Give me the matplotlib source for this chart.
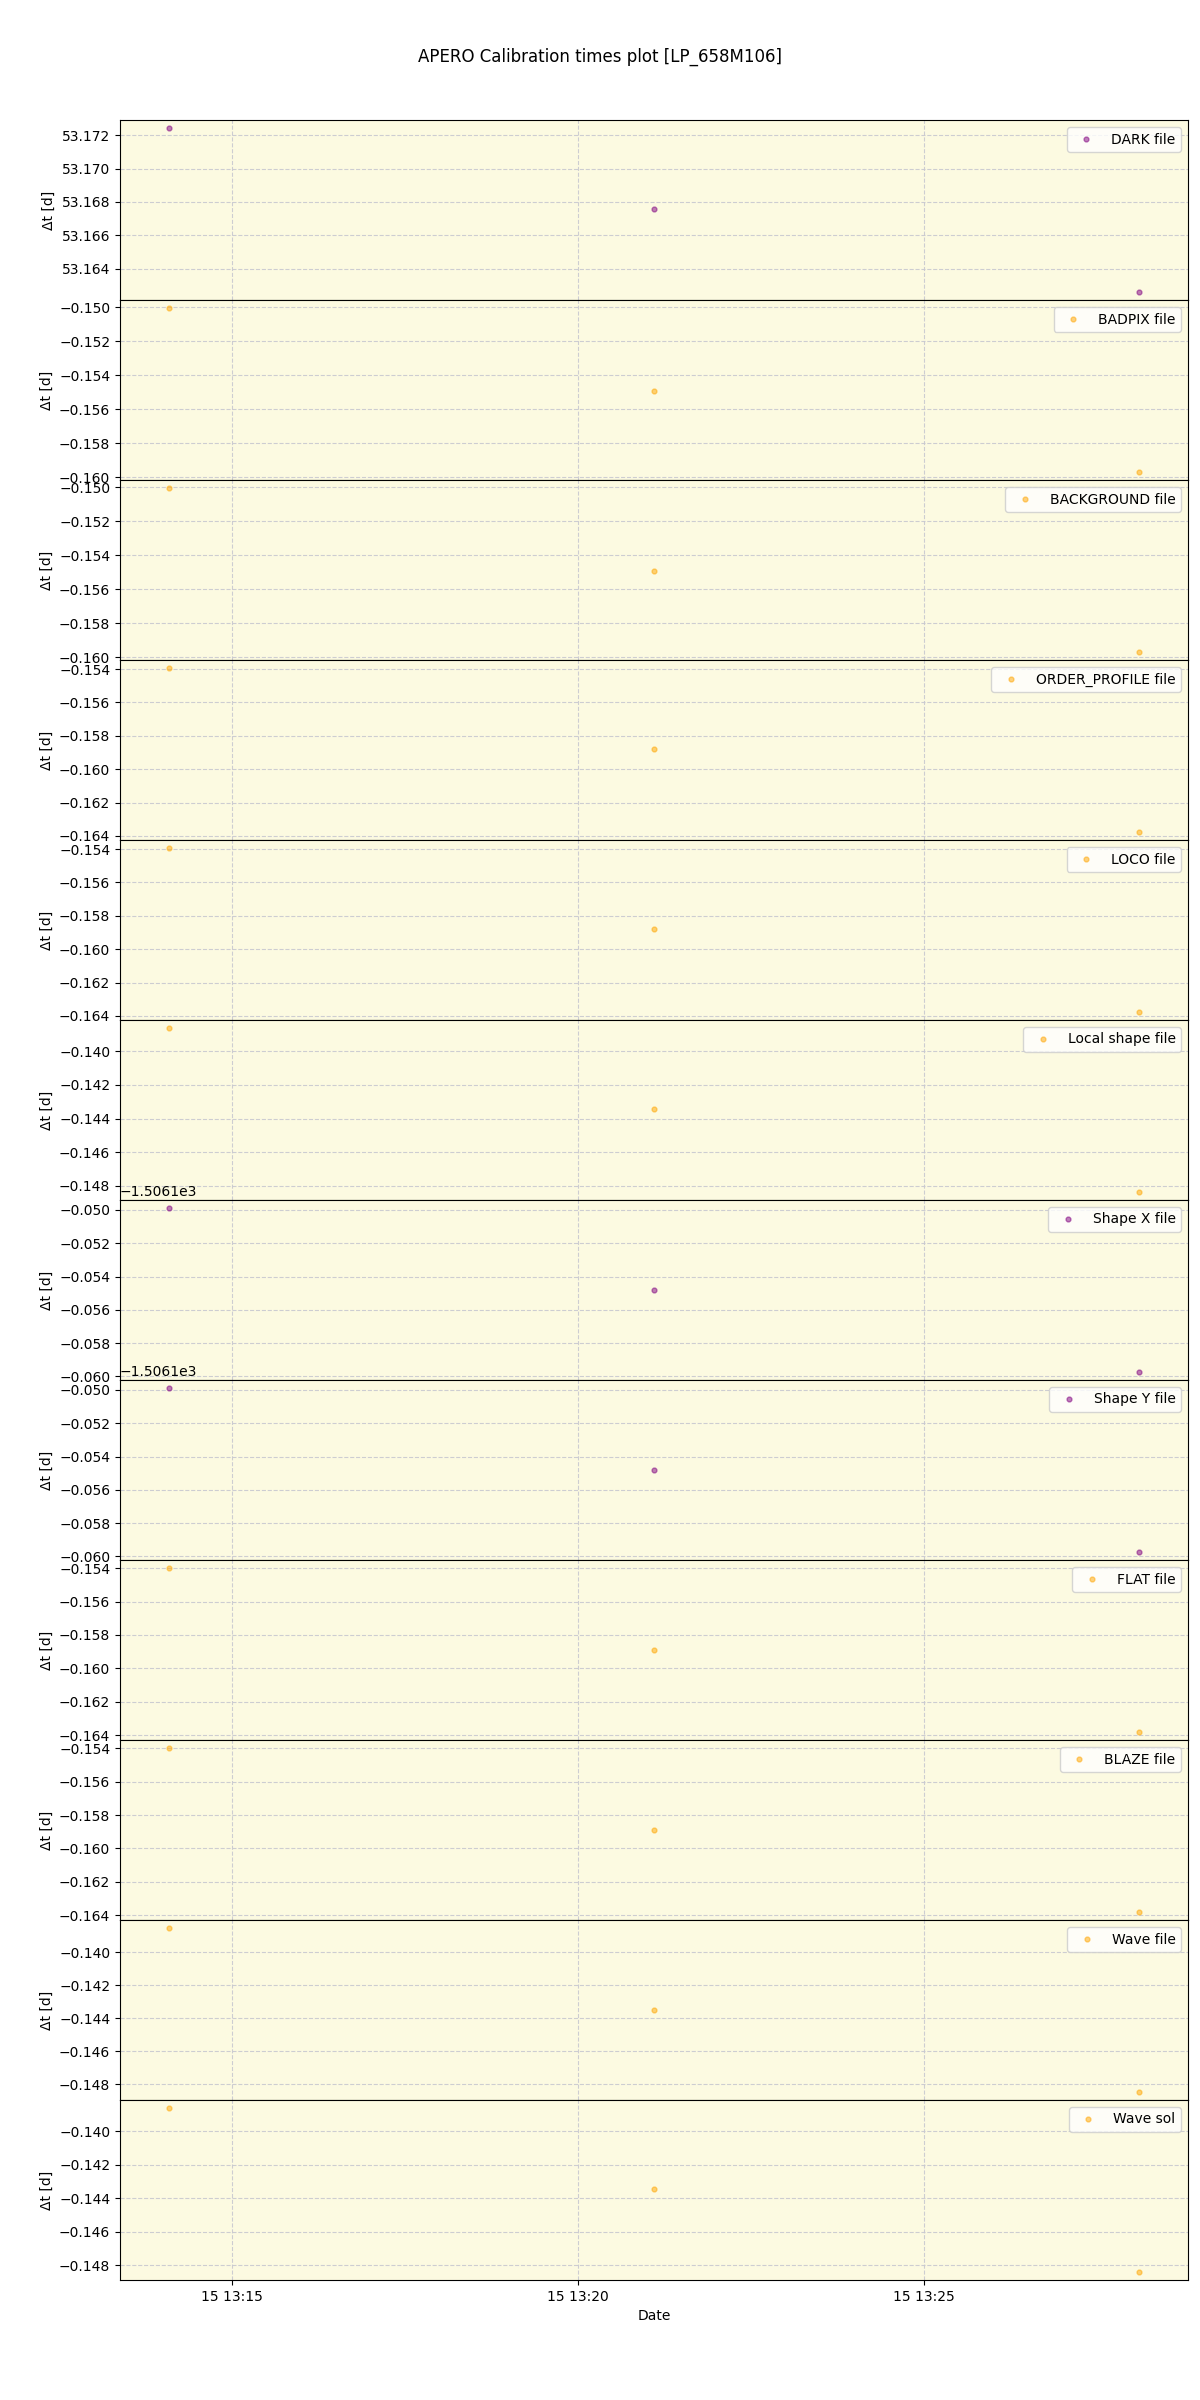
import matplotlib
matplotlib.use('Agg')
import matplotlib.pyplot as plt
import numpy as np
import pandas as pd

# observation times (same three frames for every calibration type)
times = pd.to_datetime(['2023-03-15 13:14:05', '2023-03-15 13:21:06', '2023-03-15 13:28:07'])

labels = ['DARK file', 'BADPIX file', 'BACKGROUND file', 'ORDER_PROFILE file',
          'LOCO file', 'Local shape file', 'Shape X file', 'Shape Y file',
          'FLAT file', 'BLAZE file', 'Wave file', 'Wave sol']

dark = [53.17242, 53.16755, 53.16262]
badpix = [-0.15006, -0.15494, -0.15968]
background = [-0.15006, -0.15494, -0.15968]
order_profile = [-0.15395, -0.15878, -0.16375]
loco = [-0.15395, -0.15878, -0.16375]
local_shape = [-0.13862, -0.14345, -0.14836]
shape_x = [-1506.1499, -1506.1548, -1506.15972]
shape_y = [-1506.1499, -1506.1548, -1506.15972]
flat = [-0.15400, -0.15890, -0.16380]
blaze = [-0.15399, -0.15890, -0.16380]
wave_file = [-0.13855, -0.14350, -0.14845]
wave_sol = [-0.13862, -0.14346, -0.14839]

series = [dark, badpix, background, order_profile, loco, local_shape,
          shape_x, shape_y, flat, blaze, wave_file, wave_sol]
colors = ['purple', 'orange', 'orange', 'orange', 'orange', 'orange',
          'purple', 'purple', 'orange', 'orange', 'orange', 'orange']

fig, axes = plt.subplots(12, 1, figsize=(12, 24), dpi=100, sharex=True)
fig.subplots_adjust(left=0.1, right=0.99, top=0.95, bottom=0.05, hspace=0)
fig.suptitle('APERO Calibration times plot [LP_658M106]', fontsize=12, y=0.98)

for ax, vals, lab, col in zip(axes, series, labels, colors):
    ax.plot(times, vals, 'o', color=col, alpha=0.5, ms=3.5, label=lab)
    ax.set_facecolor('#fcfae1')
    ax.grid(True, linestyle='--', color='#c8c8d0', alpha=0.9)
    ax.set_ylabel('\u0394t [d]')
    ax.legend(loc='upper right')

axes[-1].set_xlabel('Date')

plt.savefig('out.png')
